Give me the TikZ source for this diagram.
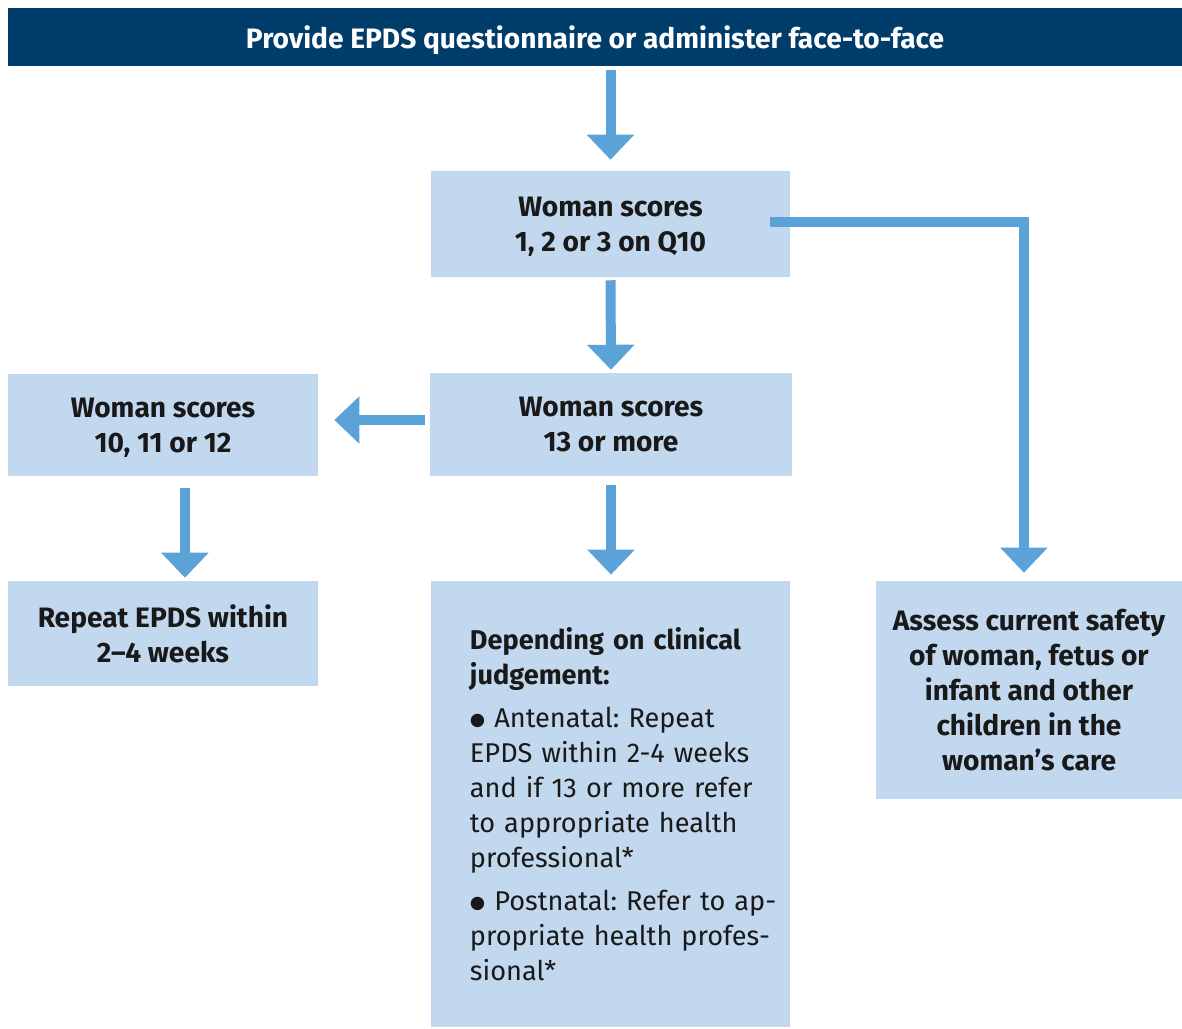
\documentclass[tikz,border=0pt]{standalone}
\usepackage{fontspec}
\setmainfont{Fira Sans}
\newfontfamily\dejavu{DejaVu Sans}
\usetikzlibrary{arrows.meta}
\definecolor{navy}{HTML}{003D6B}
\definecolor{boxblue}{HTML}{C2D8EE}
\definecolor{arrowblue}{HTML}{5AA2D8}
\newcommand{\blt}{\raisebox{1.5pt}{\dejavu\fontsize{12.5}{13}\selectfont ●}}
\frenchspacing

\begin{document}
\begin{tikzpicture}[x=0.025cm, y=-0.025cm,
	box/.style={fill=boxblue, inner sep=0pt, align=center, text=black!90, font=\bfseries\fontsize{20}{24.9}\selectfont},
	flow/.style={arrowblue, line width=7.1pt, -{Triangle[width=32.7pt,length=17.8pt]}}]
	\useasboundingbox (0,0) rectangle (1182,1028);
	\node[box, fill=navy, text=white, text depth=0pt, minimum width=29.35cm, minimum height=1.45cm] (bar) at (595,37) {Provide EPDS questionnaire or administer face-to-face};
	\node[box, text depth=-2.5pt, minimum width=8.975cm, minimum height=2.65cm] (q10) at (610.5,224) {Woman scores\\1, 2 or 3 on Q10};
	\node[box, text depth=-4pt, minimum width=9.05cm, minimum height=2.575cm] (more) at (611,424.5) {Woman scores\\13 or more};
	\node[box, text depth=-4pt, minimum width=7.75cm, minimum height=2.55cm] (mid) at (163,425) {Woman scores\\10, 11 or 12};
	\node[box, minimum width=7.75cm, minimum height=2.625cm] (rep) at (163,633.5) {Repeat EPDS within\\2–4 weeks};
	\node[box, minimum width=7.65cm, minimum height=5.45cm] (safe) at (1029,690) {Assess current safety\\of woman, fetus or\\infant and other\\children in the\\woman’s care};
	\node[box, align=left, text width=7.025cm, font=\fontsize{19.3}{24.9}\selectfont, minimum width=8.975cm, minimum height=11.15cm] (dep) at (610.5,804) {\textbf{Depending on clinical}\\\textbf{judgement:}\\[5.7pt]
		\mbox{\blt{} Antenatal: Repeat}\\\mbox{EPDS within 2-4 weeks}\\\mbox{and if 13 or more refer}\\to appropriate health\\professional*\\[5.7pt]
		\mbox{\blt{} Postnatal: Refer to ap-}\\\mbox{propriate health profes-}\\sional*};
	\draw[flow, shorten <=2.85pt, shorten >=7.8pt] (q10.north |- bar.south) -- (q10.north);
	\draw[flow, shorten <=2.1pt, shorten >=2.1pt] (q10.south) -- (more.north);
	\draw[flow, shorten <=3.6pt, shorten >=11.4pt] ([yshift=3.2pt]more.west) -- ([yshift=3.2pt]more.west -| mid.east);
	\draw[flow, shorten <=8.5pt, shorten >=2.1pt] ([xshift=15.6pt]mid.south) -- ([xshift=15.6pt]rep.north);
	\draw[flow, shorten <=6.4pt, shorten >=4.3pt] (more.south) -- (more.south |- dep.north);
	\draw[flow, shorten >=5.7pt] ([xshift=-14.2pt,yshift=1.4pt]q10.east) -| ([xshift=-3.6pt]safe.north);
\end{tikzpicture}
\end{document}
